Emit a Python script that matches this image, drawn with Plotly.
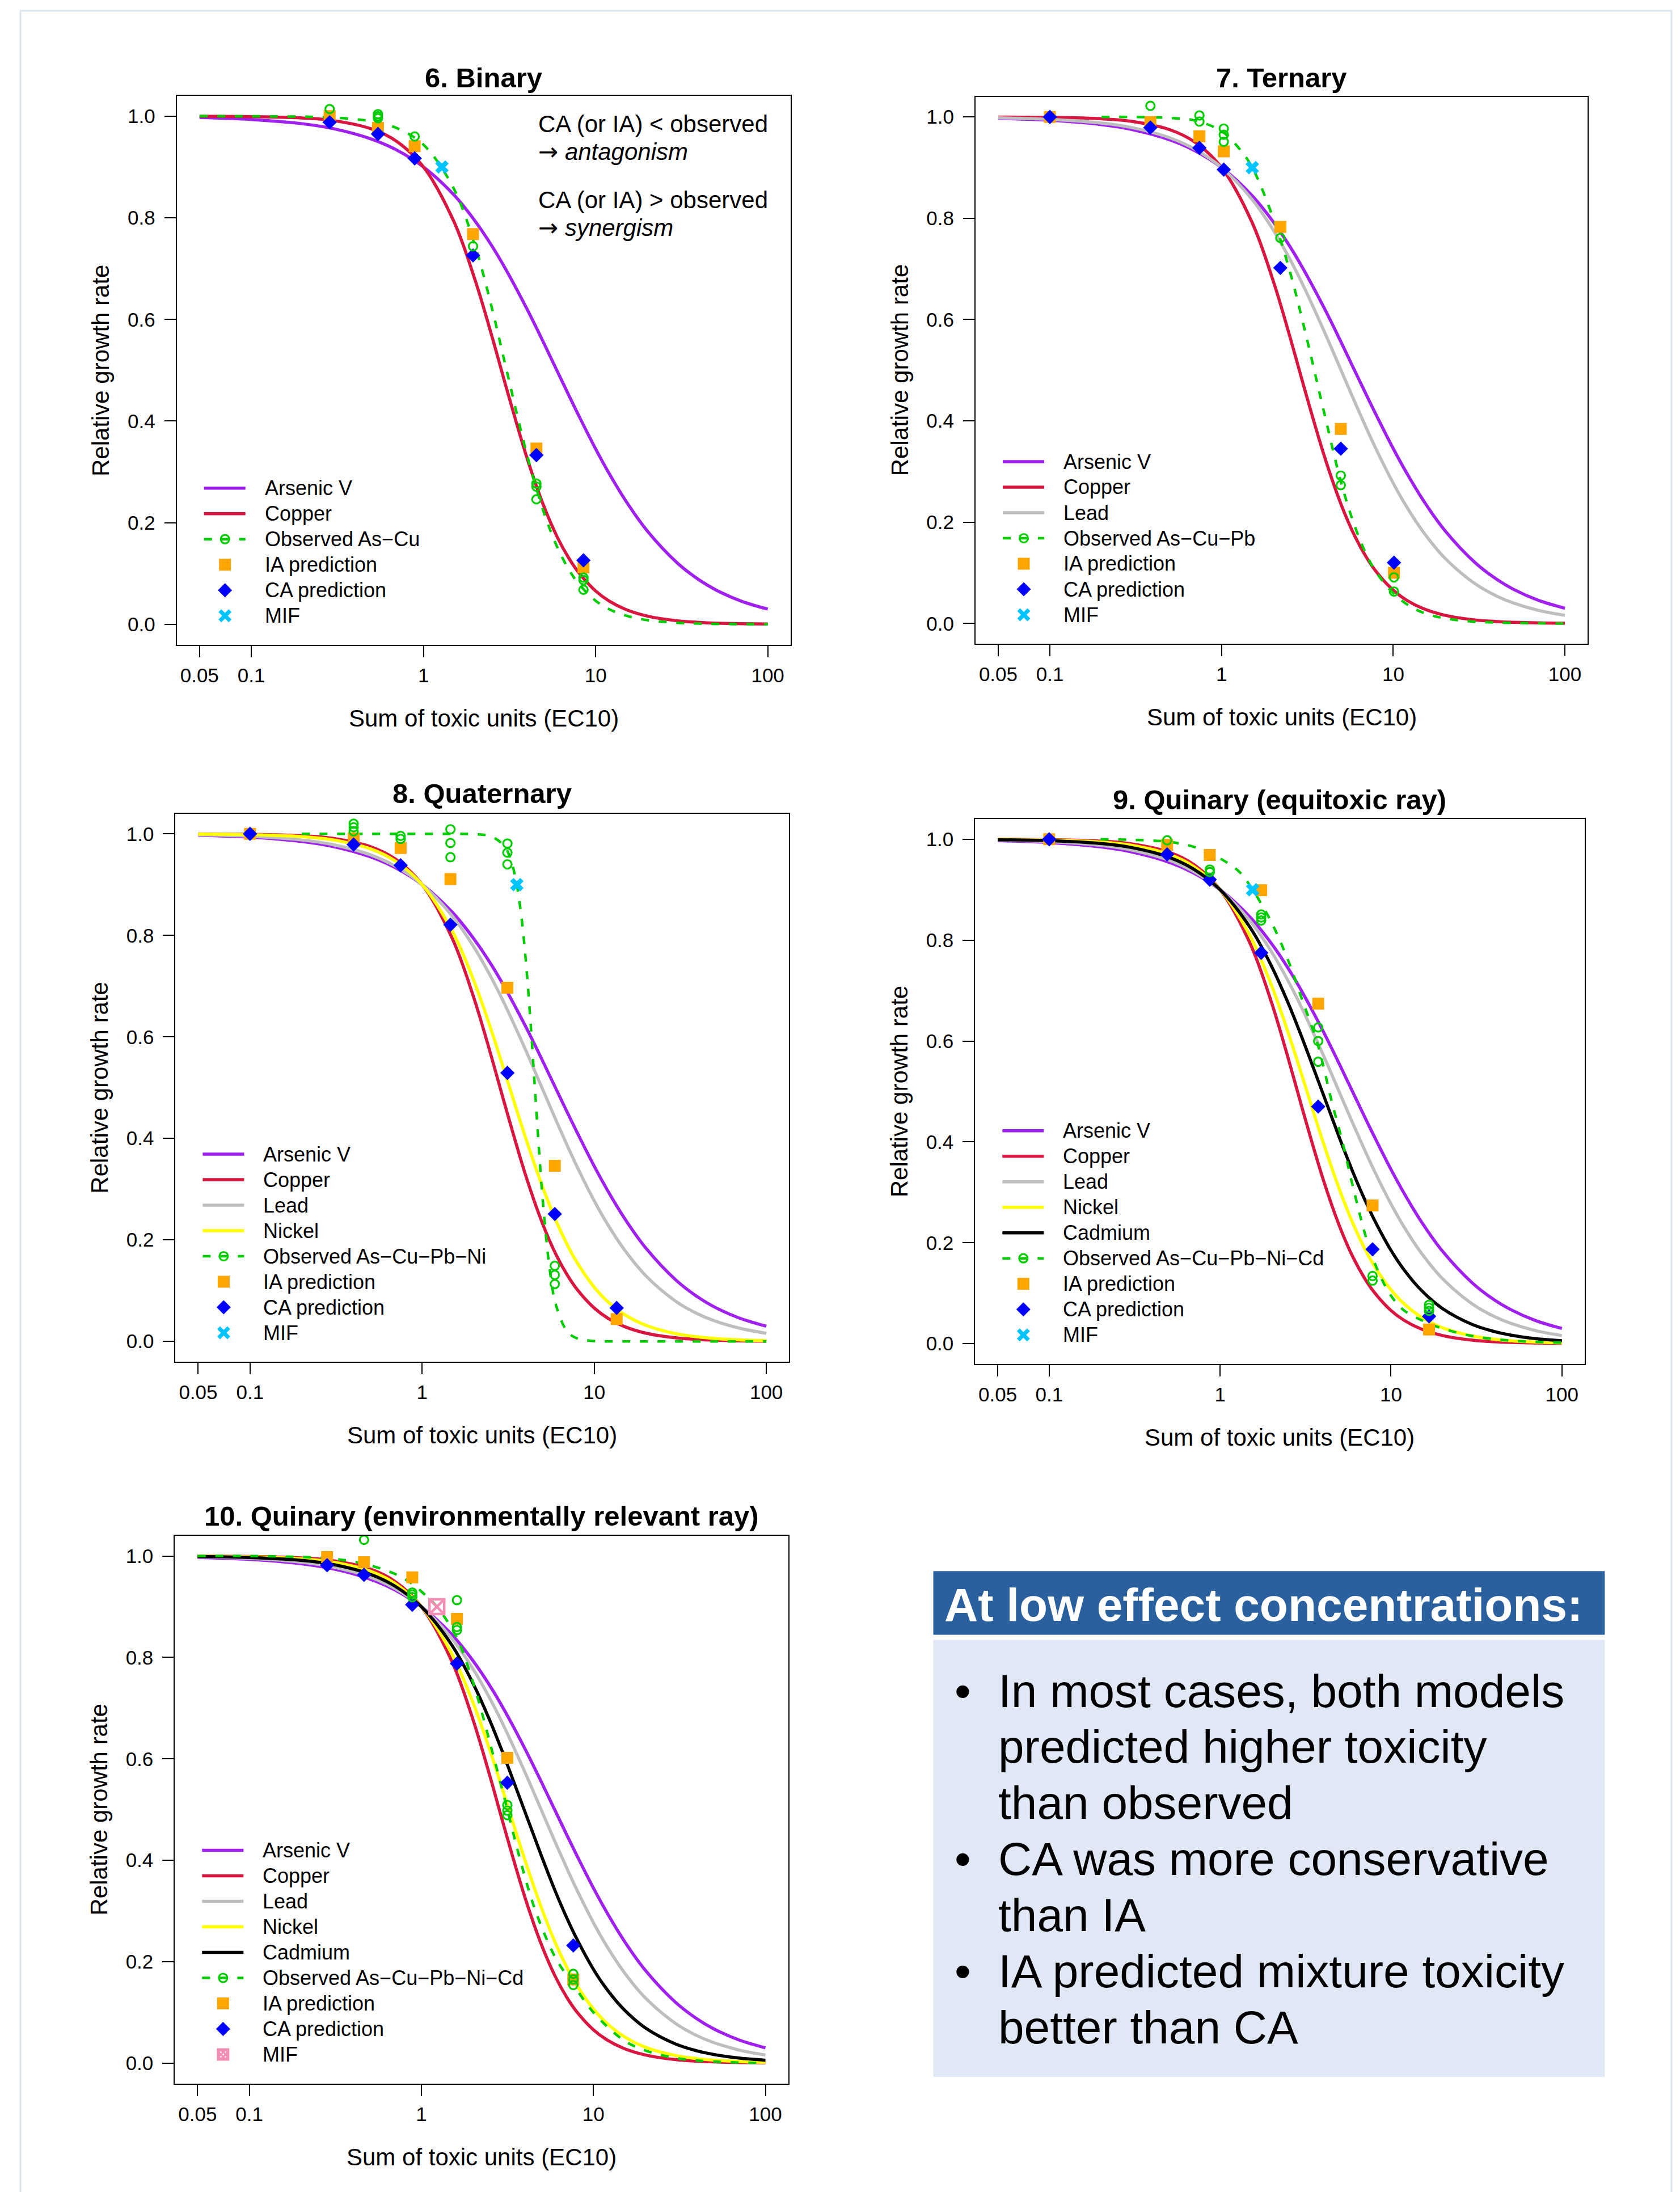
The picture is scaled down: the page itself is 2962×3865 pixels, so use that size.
import math
import plotly.graph_objects as go

W, H = 2962, 3865
FONT = "Liberation Sans, Arial, Helvetica, sans-serif"

# ---------------- data ----------------
curve_x = [0.05, 0.1, 0.2, 0.3, 0.5, 0.7, 1, 1.5, 2, 2.5, 3, 4, 5, 6, 7, 8,
           10, 12, 15, 20, 30, 40, 50, 70, 100]
arsenic_y = [0.9972, 0.9935, 0.9849, 0.9754, 0.9548, 0.9332, 0.9000, 0.8453, 0.7930,
             0.7444, 0.6992, 0.6200, 0.5535, 0.4974, 0.4501, 0.4100, 0.3453, 0.2965,
             0.2425, 0.1834, 0.1200, 0.0873, 0.0677, 0.0458, 0.0300]
copper_y = [0.9998, 0.9991, 0.9963, 0.9913, 0.9748, 0.9502, 0.9000, 0.7931, 0.6763,
            0.5664, 0.4706, 0.3268, 0.2327, 0.1710, 0.1298, 0.1013, 0.0657, 0.0457,
            0.0291, 0.0161, 0.0069, 0.0038, 0.0024, 0.0012, 0.0006]
lead_y = [0.9982, 0.9953, 0.9879, 0.9791, 0.9588, 0.9362, 0.9000, 0.8378, 0.7768,
          0.7193, 0.6662, 0.5736, 0.4977, 0.4355, 0.3845, 0.3422, 0.2769, 0.2298,
          0.1802, 0.1289, 0.0783, 0.0541, 0.0405, 0.0259, 0.0160]
nickel_y = [0.9996, 0.9985, 0.9946, 0.9885, 0.9706, 0.9462, 0.9000, 0.8080, 0.7102,
            0.6172, 0.5337, 0.4003, 0.3052, 0.2375, 0.1892, 0.1538, 0.1067, 0.0782,
            0.0528, 0.0315, 0.0150, 0.0088, 0.0058, 0.0031, 0.0016]
cadmium_y = [0.9991, 0.9972, 0.9916, 0.9840, 0.9646, 0.9409, 0.9000, 0.8249, 0.7483,
             0.6756, 0.6085, 0.4956, 0.4076, 0.3392, 0.2864, 0.2451, 0.1850, 0.1451,
             0.1062, 0.0697, 0.0378, 0.0242, 0.0171, 0.0100, 0.0057]

# observed mixture curves
obs6_cx = curve_x
obs6_cy = [1.0000, 0.9998, 0.9990, 0.9972, 0.9898, 0.9765, 0.9438, 0.8574, 0.7432,
           0.6219, 0.5083, 0.3329, 0.2208, 0.1512, 0.1075, 0.0792, 0.0465, 0.0298,
           0.0172, 0.0083, 0.0030, 0.0014, 0.0008, 0.0004, 0.0001]
obs7_cx = [0.2, 0.3, 0.5, 0.7, 1, 1.25, 1.5, 2, 2.5, 3, 4, 5, 6, 7, 8, 10, 12, 15,
           20, 30, 50, 100]
obs7_cy = [1.0, 1.0, 0.998, 0.993, 0.972, 0.94, 0.902, 0.80, 0.695, 0.59, 0.41, 0.275,
           0.19, 0.135, 0.10, 0.06, 0.038, 0.021, 0.010, 0.0035, 0.001, 0.0]
obs8_cx = [0.2, 0.5, 1, 1.5, 2, 2.5, 3, 3.25, 3.5, 3.75, 4, 4.25, 4.5, 4.75, 5, 5.5,
           6, 7, 8, 10, 15, 30, 100]
obs8_cy = [1.0, 1.0, 1.0, 1.0, 0.9994, 0.9954, 0.9763, 0.9522, 0.9104, 0.8446, 0.7518,
           0.6361, 0.5100, 0.3894, 0.2860, 0.1444, 0.0711, 0.0186, 0.0056, 0.0007,
           0.0, 0.0, 0.0]
obs9_cx = [0.2, 0.3, 0.5, 0.7, 1.0, 1.3, 1.55, 2.0, 2.5, 3.0, 3.75, 4.5, 5.2, 6.0,
           7.3, 8.5, 10, 12, 16.7, 20, 30, 50, 100]
obs9_cy = [1.0, 0.999, 0.995, 0.985, 0.962, 0.935, 0.90, 0.835, 0.76, 0.685, 0.59,
           0.48, 0.40, 0.31, 0.20, 0.14, 0.095, 0.065, 0.04, 0.03, 0.015, 0.006, 0.002]
obs10_cx = [0.05, 0.1, 0.2, 0.3, 0.46, 0.7, 0.885, 1.0, 1.23, 1.6, 2.0, 2.65, 3.16,
            3.69, 4.5, 5.5, 6.2, 7.64, 10, 15, 20, 30, 50, 100]
obs10_cy = [1.0, 1.0, 0.998, 0.995, 0.985, 0.965, 0.945, 0.93, 0.90, 0.84, 0.75, 0.60,
            0.50, 0.41, 0.31, 0.235, 0.20, 0.155, 0.10, 0.045, 0.025, 0.01, 0.003, 0.0]

# prediction points
dose6 = [0.285, 0.544, 0.889, 1.94, 4.53, 8.50]
ia6 = [1.0, 0.977, 0.941, 0.768, 0.346, 0.112]
ca6 = [0.988, 0.965, 0.917, 0.726, 0.333, 0.126]
dose7 = [0.1, 0.385, 0.743, 1.03, 2.2, 4.95, 10.1]
ia7 = [1.0, 0.990, 0.962, 0.932, 0.783, 0.384, 0.100]
ca7 = [1.0, 0.979, 0.939, 0.896, 0.702, 0.345, 0.120]
dose8 = [0.1, 0.40, 0.75, 1.46, 3.13, 5.9, 13.5]
ia8 = [1.0, 0.991, 0.972, 0.911, 0.697, 0.346, 0.044]
ca8 = [1.0, 0.979, 0.938, 0.821, 0.529, 0.251, 0.066]
dose9 = [0.1, 0.49, 0.87, 1.74, 3.75, 7.8, 16.7]
ia9 = [1.0, 0.989, 0.969, 0.899, 0.674, 0.274, 0.028]
ca9 = [1.0, 0.970, 0.920, 0.775, 0.470, 0.187, 0.054]
dose10 = [0.283, 0.464, 0.885, 1.61, 3.16, 7.64]
ia10 = [0.998, 0.988, 0.958, 0.876, 0.602, 0.165]
ca10 = [0.982, 0.963, 0.904, 0.788, 0.553, 0.232]

# observed replicate points
obs6_px = [0.285, 0.544, 0.544, 0.544, 0.889, 1.94, 4.53, 4.53, 4.53, 8.50, 8.50, 8.50]
obs6_py = [1.014, 1.004, 1.000, 0.996, 0.960, 0.744, 0.277, 0.271, 0.246, 0.092, 0.087, 0.068]
obs7_px = [0.385, 0.743, 0.743, 1.03, 1.03, 1.03, 2.2, 4.95, 4.95, 10.1, 10.1]
obs7_py = [1.022, 1.003, 0.991, 0.977, 0.965, 0.951, 0.761, 0.292, 0.273, 0.091, 0.063]
obs8_px = [0.40, 0.40, 0.40, 0.75, 0.75, 1.46, 1.46, 1.46, 3.13, 3.13, 3.13, 5.9, 5.9, 5.9]
obs8_py = [1.020, 1.013, 1.005, 0.996, 0.990, 1.009, 0.982, 0.954, 0.981, 0.963, 0.940,
           0.149, 0.131, 0.113]
obs9_px = [0.49, 0.87, 0.87, 1.74, 1.74, 1.74, 3.75, 3.75, 3.75, 7.8, 7.8, 16.7, 16.7, 16.7]
obs9_py = [0.998, 0.940, 0.935, 0.851, 0.845, 0.839, 0.627, 0.600, 0.559, 0.134, 0.125,
           0.077, 0.071, 0.065]
obs10_px = [0.464, 0.885, 0.885, 0.885, 1.61, 1.61, 1.61, 3.16, 3.16, 3.16, 7.64, 7.64, 7.64]
obs10_py = [1.032, 0.928, 0.924, 0.919, 0.913, 0.860, 0.854, 0.509, 0.498, 0.489,
            0.176, 0.165, 0.154]

# MIF (x, y)
mif6 = ([1.28], [0.90])
mif7 = ([1.51], [0.90])
mif8 = ([3.55], [0.90])
mif9 = ([1.55], [0.90])
mif10 = ([1.23], [0.90])

x_tickvals = [0.05, 0.1, 1, 10, 100]
x_ticktext = ["0.05", "0.1", "1", "10", "100"]
y_tickvals = [0.0, 0.2, 0.4, 0.6, 0.8, 1.0]
y_ticktext = ["0.0", "0.2", "0.4", "0.6", "0.8", "1.0"]

titles = ["6. Binary", "7. Ternary", "8. Quaternary", "9. Quinary (equitoxic ray)",
          "10. Quinary (environmentally relevant ray)"]
obs_labels = ["Observed As\u2212Cu", "Observed As\u2212Cu\u2212Pb", "Observed As\u2212Cu\u2212Pb\u2212Ni",
              "Observed As\u2212Cu\u2212Pb\u2212Ni\u2212Cd", "Observed As\u2212Cu\u2212Pb\u2212Ni\u2212Cd"]
ARROW = '<span style="font-family:DejaVu Sans">\u2192</span>'
note_lines = ["CA (or IA) &lt; observed", ARROW + " <i>antagonism</i>",
              "CA (or IA) &gt; observed", ARROW + " <i>synergism</i>"]
box_header = "At low effect concentrations:"
box_lines = ["In most cases, both models", "predicted higher toxicity", "than observed",
             "CA was more conservative", "than IA", "IA predicted mixture toxicity",
             "better than CA"]
box_bullet_rows = [0, 3, 5]

# ---------------- styles ----------------
C_AS, C_CU, C_PB, C_NI, C_CD = "#A020F0", "#D8163F", "#BEBEBE", "#FFFF00", "#000000"
C_OBS, C_IA, C_CA, C_MIF, C_MIF_PINK = "#00CD00", "#FFA500", "#0000FF", "#00C4FF", "#F28DB4"
LW = 5.5
metal_info = {"As": ("Arsenic V", arsenic_y, C_AS), "Cu": ("Copper", copper_y, C_CU),
              "Pb": ("Lead", lead_y, C_PB), "Ni": ("Nickel", nickel_y, C_NI),
              "Cd": ("Cadmium", cadmium_y, C_CD)}

panels = [
    dict(box=(311.7, 169.0, 1393.7, 1136.7), ty=136.7, metals=["As", "Cu"],
         oc=(obs6_cx, obs6_cy), op=(obs6_px, obs6_py), dose=dose6, ia=ia6, ca=ca6, mif=mif6, pink=False),
    dict(box=(1720.0, 170.5, 2799.0, 1135.0), ty=137.4, metals=["As", "Cu", "Pb"],
         oc=(obs7_cx, obs7_cy), op=(obs7_px, obs7_py), dose=dose7, ia=ia7, ca=ca7, mif=mif7, pink=False),
    dict(box=(309.4, 1434.5, 1391.2, 2401.0), ty=1399.4, metals=["As", "Cu", "Pb", "Ni"],
         oc=(obs8_cx, obs8_cy), op=(obs8_px, obs8_py), dose=dose8, ia=ia8, ca=ca8, mif=mif8, pink=False),
    dict(box=(1719.3, 1444.3, 2793.6, 2404.7), ty=1409.8, metals=["As", "Cu", "Pb", "Ni", "Cd"],
         oc=(obs9_cx, obs9_cy), op=(obs9_px, obs9_py), dose=dose9, ia=ia9, ca=ca9, mif=mif9, pink=False),
    dict(box=(308.3, 2707.9, 1389.6, 3673.5), ty=2673.3, metals=["As", "Cu", "Pb", "Ni", "Cd"],
         oc=(obs10_cx, obs10_cy), op=(obs10_px, obs10_py), dose=dose10, ia=ia10, ca=ca10, mif=mif10, pink=True),
]

OX, OY = 8.0, 8.0  # page (body margin) offset correction


def fx(px):
    return (px - OX) / W


def fy(py):
    return 1 - (py - OY) / H


span = 2 - math.log10(0.05)
XR = [math.log10(0.05) - 0.04 * span, 2 + 0.04 * span]
YR = [-0.04, 1.04]

fig = go.Figure()
shapes, annotations = [], []
lay = {}

for i, p in enumerate(panels, start=1):
    xa = "x" if i == 1 else f"x{i}"
    ya = "y" if i == 1 else f"y{i}"
    L, T, R, B = p["box"]
    axis_common = dict(ticks="outside", ticklen=20, tickwidth=2, tickcolor="black",
                       showline=True, linewidth=2, linecolor="black", mirror=True,
                       showgrid=False, zeroline=False, fixedrange=True,
                       tickfont=dict(family=FONT, size=35, color="black"))
    lay["xaxis" if i == 1 else f"xaxis{i}"] = dict(
        domain=[fx(L), fx(R)], type="log", range=XR, anchor=ya,
        tickmode="array", tickvals=x_tickvals, ticktext=x_ticktext,
        ticklabelstandoff=2, **axis_common)
    lay["yaxis" if i == 1 else f"yaxis{i}"] = dict(
        domain=[fy(B), fy(T)], range=YR, anchor=xa,
        tickmode="array", tickvals=y_tickvals, ticktext=y_ticktext,
        ticklabelstandoff=9, **axis_common)

    common = dict(xaxis=xa, yaxis=ya, showlegend=False, hoverinfo="skip")
    for m in p["metals"]:
        name, ys, col = metal_info[m]
        fig.add_trace(go.Scatter(x=curve_x, y=ys, mode="lines", name=name,
                                 line=dict(color=col, width=LW, shape="spline"), **common))
    fig.add_trace(go.Scatter(x=p["oc"][0], y=p["oc"][1], mode="lines", name="observed",
                             line=dict(color=C_OBS, width=4.5, dash="14px,17px", shape="spline"),
                             **common))
    fig.add_trace(go.Scatter(x=p["dose"], y=p["ia"], mode="markers", name="IA prediction",
                             marker=dict(symbol="square", size=21, color=C_IA), **common))
    fig.add_trace(go.Scatter(x=p["dose"], y=p["ca"], mode="markers", name="CA prediction",
                             marker=dict(symbol="diamond", size=19.5, color=C_CA), **common))
    fig.add_trace(go.Scatter(x=p["op"][0], y=p["op"][1], mode="markers", name="observed pts",
                             marker=dict(symbol="circle-open", size=15, color=C_OBS,
                                         line=dict(width=3.2, color=C_OBS)), **common))
    if p["pink"]:
        fig.add_trace(go.Scatter(x=p["mif"][0], y=p["mif"][1], mode="markers", name="MIF",
                                 marker=dict(symbol="square-x-open", size=26, color=C_MIF_PINK,
                                             line=dict(width=4.5, color=C_MIF_PINK)), **common))
    else:
        fig.add_trace(go.Scatter(x=p["mif"][0], y=p["mif"][1], mode="markers", name="MIF",
                                 marker=dict(symbol="x", size=21, color=C_MIF,
                                             line=dict(width=0)), **common))

    # titles
    cx = (L + R) / 2
    annotations.append(dict(text=f"<b>{titles[i-1]}</b>", x=fx(cx), y=fy(p["ty"]),
                            xref="paper", yref="paper", xanchor="center", yanchor="middle",
                            showarrow=False, font=dict(family=FONT, size=49, color="black")))
    annotations.append(dict(text="Sum of toxic units (EC10)", x=fx(cx), y=fy(B + 129.5),
                            xref="paper", yref="paper", xanchor="center", yanchor="middle",
                            showarrow=False, font=dict(family=FONT, size=42, color="black")))
    annotations.append(dict(text="Relative growth rate", x=fx(L - 133.5), y=fy((T + B) / 2),
                            xref="paper", yref="paper", xanchor="center", yanchor="middle",
                            textangle=-90, showarrow=False,
                            font=dict(family=FONT, size=42, color="black")))

    # manual legend (bottom-left inside the box)
    entries = [("line", metal_info[m][2], metal_info[m][0]) for m in p["metals"]]
    entries += [("obs", C_OBS, obs_labels[i-1]), ("sq", C_IA, "IA prediction"),
                ("dia", C_CA, "CA prediction"), ("pink" if p["pink"] else "x",
                                                 C_MIF_PINK if p["pink"] else C_MIF, "MIF")]
    n = len(entries)
    for k, (kind, col, label) in enumerate(entries):
        ry = B - 51 - (n - 1 - k) * 45
        lx0, lx1, mx = L + 48, L + 121, L + 85
        if kind == "line":
            shapes.append(dict(type="line", xref="paper", yref="paper", x0=fx(lx0), x1=fx(lx1),
                               y0=fy(ry), y1=fy(ry), line=dict(color=col, width=LW)))
        elif kind == "obs":
            shapes.append(dict(type="line", xref="paper", yref="paper", x0=fx(lx0), x1=fx(lx1),
                               y0=fy(ry), y1=fy(ry),
                               line=dict(color=col, width=4.5, dash="14px,17px")))
            shapes.append(dict(type="circle", xref="paper", yref="paper", x0=fx(mx - 7.5),
                               x1=fx(mx + 7.5), y0=fy(ry + 7.5), y1=fy(ry - 7.5),
                               line=dict(color=col, width=3.2), fillcolor="rgba(0,0,0,0)"))
        elif kind == "sq":
            shapes.append(dict(type="rect", xref="paper", yref="paper", x0=fx(mx - 10.5),
                               x1=fx(mx + 10.5), y0=fy(ry + 10.5), y1=fy(ry - 10.5),
                               line=dict(width=0), fillcolor=col))
        elif kind == "dia":
            path = (f"M{fx(mx)},{fy(ry - 12.5)} L{fx(mx + 12.5)},{fy(ry)} "
                    f"L{fx(mx)},{fy(ry + 12.5)} L{fx(mx - 12.5)},{fy(ry)} Z")
            shapes.append(dict(type="path", xref="paper", yref="paper", path=path,
                               line=dict(width=0), fillcolor=col))
        elif kind == "x":
            path = (f"M{fx(mx - 9)},{fy(ry - 9)} L{fx(mx + 9)},{fy(ry + 9)} "
                    f"M{fx(mx - 9)},{fy(ry + 9)} L{fx(mx + 9)},{fy(ry - 9)}")
            shapes.append(dict(type="path", xref="paper", yref="paper", path=path,
                               line=dict(width=7, color=col)))
        else:  # pink square with x
            shapes.append(dict(type="rect", xref="paper", yref="paper", x0=fx(mx - 11),
                               x1=fx(mx + 11), y0=fy(ry + 11), y1=fy(ry - 11),
                               line=dict(width=0), fillcolor=col))
            path = (f"M{fx(mx - 5)},{fy(ry - 5)} L{fx(mx + 5)},{fy(ry + 5)} "
                    f"M{fx(mx - 5)},{fy(ry + 5)} L{fx(mx + 5)},{fy(ry - 5)}")
            shapes.append(dict(type="path", xref="paper", yref="paper", path=path,
                               line=dict(width=2, color="white", dash="dot")))
        annotations.append(dict(text=label, x=fx(L + 153), y=fy(ry), xref="paper", yref="paper",
                                xanchor="left", yanchor="middle", showarrow=False,
                                font=dict(family=FONT, size=36, color="black")))

# note text in panel 6
note_y = [218.6, 267.5, 352.5, 401.5]
for t, yy in zip(note_lines, note_y):
    annotations.append(dict(text=t, x=fx(947), y=fy(yy), xref="paper", yref="paper",
                            xanchor="left", yanchor="middle", showarrow=False,
                            font=dict(family=FONT, size=42, color="black")))

# text box (bottom right)
shapes.append(dict(type="rect", xref="paper", yref="paper", x0=fx(1645.5), x1=fx(2829.3),
                   y0=fy(2882.4), y1=fy(2770.3), line=dict(width=0), fillcolor="#2A609E",
                   layer="below"))
shapes.append(dict(type="rect", xref="paper", yref="paper", x0=fx(1645.5), x1=fx(2829.3),
                   y0=fy(3662.0), y1=fy(2891.5), line=dict(width=0), fillcolor="#DFE8F4",
                   layer="below"))
annotations.append(dict(text=f"<b>{box_header}</b>", x=fx(1663), y=fy(2829.4), xref="paper",
                        yref="paper", xanchor="left", yanchor="middle", showarrow=False,
                        font=dict(family=FONT, size=82, color="white")))
for k, t in enumerate(box_lines):
    yy = 2981 + k * 98.95
    annotations.append(dict(text=t, x=fx(1758), y=fy(yy), xref="paper", yref="paper",
                            xanchor="left", yanchor="middle", showarrow=False,
                            font=dict(family=FONT, size=82, color="black")))
    if k in box_bullet_rows:
        annotations.append(dict(text="\u2022", x=fx(1697), y=fy(yy), xref="paper",
                                yref="paper", xanchor="center", yanchor="middle",
                                showarrow=False, font=dict(family=FONT, size=82, color="black")))

# page frame
shapes.append(dict(type="rect", xref="paper", yref="paper", x0=fx(36), x1=fx(2947),
                   y0=fy(H + 40), y1=fy(19), line=dict(color="#DCE6F2", width=3),
                   fillcolor="rgba(0,0,0,0)", layer="below"))

fig.update_layout(width=W, height=H, margin=dict(l=0, r=0, t=0, b=0, pad=0),
                  paper_bgcolor="white", plot_bgcolor="white", showlegend=False,
                  shapes=shapes, annotations=annotations, **lay)

fig.write_html("out.html")
